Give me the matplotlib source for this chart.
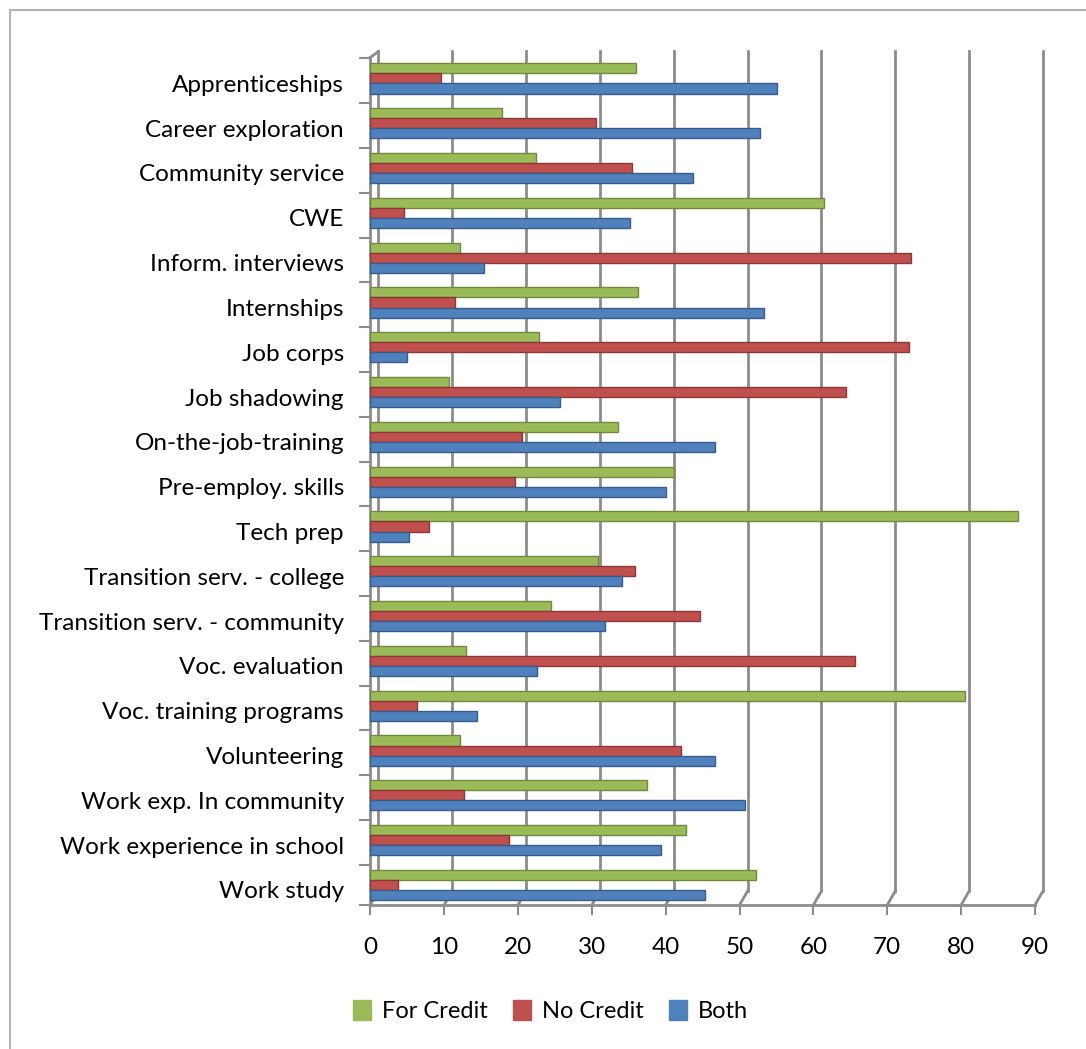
import matplotlib.pyplot as plt
import matplotlib.transforms as mtransforms
import numpy as np

plt.rcParams['font.family'] = ['Lato', 'DejaVu Sans']

categories = ["Apprenticeships", "Career exploration", "Community service", "CWE",
              "Inform. interviews", "Internships", "Job corps", "Job shadowing",
              "On-the-job-training", "Pre-employ. skills", "Tech prep",
              "Transition serv. - college", "Transition serv. - community",
              "Voc. evaluation", "Voc. training programs", "Volunteering",
              "Work exp. In community", "Work experience in school", "Work study"]
for_credit = [36.0, 17.8, 22.4, 61.4, 12.2, 36.3, 22.8, 10.7, 33.6, 41.1, 87.7,
              30.8, 24.5, 12.9, 80.5, 12.1, 37.5, 42.8, 52.2]
no_credit = [9.6, 30.5, 35.5, 4.5, 73.2, 11.5, 72.9, 64.4, 20.6, 19.6, 7.9,
             35.8, 44.7, 65.6, 6.3, 42.1, 12.7, 18.8, 3.7]
both = [55.1, 52.8, 43.7, 35.1, 15.4, 53.3, 5.0, 25.7, 46.7, 40.1, 5.2,
        34.1, 31.8, 22.6, 14.4, 46.7, 50.8, 39.3, 45.3]
series = [("For Credit", for_credit, "#9bbb59", "#71893f"),
          ("No Credit", no_credit, "#c0504d", "#8c3836"),
          ("Both", both, "#4f81bd", "#385d8a")]

fig = plt.figure(figsize=(10.86, 10.49), dpi=100)
# outer frame: only the top and left edges show
fig.add_artist(plt.Line2D([0.009, 1.0], [0.9905, 0.9905], transform=fig.transFigure,
                          color="#b3b3b3", lw=1.5))
fig.add_artist(plt.Line2D([0.009, 0.009], [0.0, 0.9905], transform=fig.transFigure,
                          color="#b3b3b3", lw=1.5))
ax = fig.add_axes([0.341, 0.1373, 0.612, 0.808])

n = len(categories)
y = np.arange(n)[::-1].astype(float)
h = 0.225
offsets = [h, 0, -h]
ytop = n - 1 + 0.47
ybot = -0.446

ax.set_xlim(0, 90)
ax.set_ylim(ybot, ytop)

# back-wall gridlines, shifted right and up for a depth look
shift = mtransforms.ScaledTranslation(8 / 100, 6 / 100, fig.dpi_scale_trans)
for v in range(0, 100, 10):
    ax.plot([v, v], [ybot + 0.18, ytop], color="#8c8c8c", lw=2,
            transform=ax.transData + shift, clip_on=False, zorder=1)
    ax.plot([v, v + 1.08], [ybot, ybot + 0.31], color="#8c8c8c", lw=2, clip_on=False, zorder=1)
ax.plot([0, 1.08], [ytop, ytop + 0.13], color="#8c8c8c", lw=2, clip_on=False, zorder=1)

for (name, vals, col, dark), off in zip(series, offsets):
    ax.barh(y + off, vals, height=h, color=col, edgecolor=dark, linewidth=1.0,
            label=name, zorder=3)

ax.set_yticks(y - 0.11)
ax.set_yticklabels(categories, fontsize=17.5)
ax.set_yticks(np.append(y + 0.45, ybot), minor=True)
ax.set_xticks(range(0, 100, 10))
ax.tick_params(axis="x", labelsize=17.5, length=7, width=1.5, color="#8c8c8c", pad=16)
ax.tick_params(axis="y", which="major", length=0, pad=19)
ax.tick_params(axis="y", which="minor", length=8, width=1.5, color="#8c8c8c")

for s in ["top", "right"]:
    ax.spines[s].set_visible(False)
for s in ["left", "bottom"]:
    ax.spines[s].set_color("#8c8c8c")
    ax.spines[s].set_linewidth(2)

handles = [plt.Rectangle((0, 0), 1, 1, color=col) for _, _, col, _ in series]
labels = [name for name, _, _, _ in series]
fig.legend(handles, labels, loc="center", bbox_to_anchor=(0.507, 0.036), ncol=3,
           frameon=False, fontsize=17, handlelength=0.75, handleheight=0.95,
           handletextpad=0.45, columnspacing=1.1)

fig.savefig("out.png", dpi=100)
